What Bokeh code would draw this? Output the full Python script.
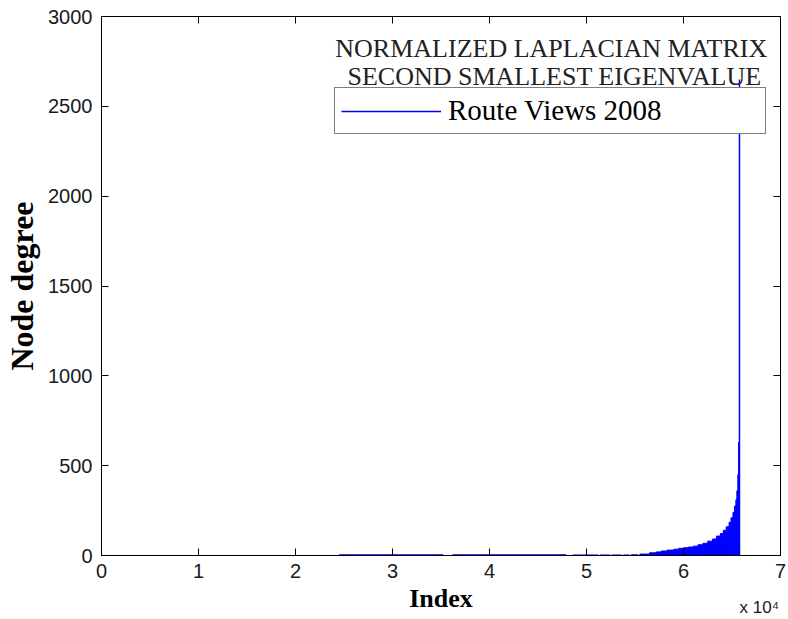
from bokeh.plotting import figure
from bokeh.models import (Range1d, LinearAxis, FixedTicker, Legend, LegendItem, Label)
from bokeh.embed import file_html
from bokeh.resources import INLINE

# ---- data ----
seg_start = [24500, 36200, 48600, 51400, 52600, 53800, 54600, 55500, 56500, 57200,
             57700, 58300, 59000, 59500, 60000, 60500, 61000, 61500, 62000, 62500,
             63000, 63400, 63800, 64100, 64400, 64700, 64900, 65100, 65250, 65400,
             65500, 65600, 65680]
seg_end = [35200, 47900, 51200, 52400, 53600, 54400, 55300, 56500, 57200, 57700,
           58300, 59000, 59500, 60000, 60500, 61000, 61500, 62000, 62500, 63000,
           63400, 63800, 64100, 64400, 64700, 64900, 65100, 65250, 65400, 65500,
           65600, 65680, 65760]
seg_degree = [4, 4, 3, 3, 3, 3, 4, 8, 15, 20,
              25, 30, 35, 40, 43, 47, 52, 60, 68, 80,
              92, 108, 122, 140, 160, 185, 210, 240, 275, 310,
              360, 450, 630]

spike_index = [65770]
spike_degree = [2650]

x_ticks = [0, 10000, 20000, 30000, 40000, 50000, 60000, 70000]
x_tick_labels = ["0", "1", "2", "3", "4", "5", "6", "7"]
y_ticks = [0, 500, 1000, 1500, 2000, 2500, 3000]

title_lines = ["NORMALIZED LAPLACIAN  MATRIX", "SECOND SMALLEST EIGENVALUE"]
legend_label = "Route Views 2008"
x_multiplier = "x 10\u2074"

BLUE = "#0000ff"
TICK_FONT = "Liberation Sans"
SERIF = "Liberation Serif"

p = figure(width=788, height=619, output_backend="svg", toolbar_location=None,
           x_range=Range1d(0, 70000), y_range=Range1d(0, 3000),
           min_border_left=101, min_border_right=8, min_border_top=16, min_border_bottom=64)
p.background_fill_color = "white"
p.border_fill_color = "white"
p.outline_line_color = "black"
p.outline_line_width = 1
p.grid.visible = False

bars = p.quad(left=seg_start, right=seg_end, bottom=0, top=seg_degree,
              fill_color=BLUE, line_color=BLUE, line_width=1)
spike = p.segment(x0=spike_index, y0=[0] * len(spike_index), x1=spike_index, y1=spike_degree,
                  line_color=BLUE, line_width=1.5)

def style_axis(ax, show_labels=True):
    ax.major_tick_in = 7
    ax.major_tick_out = 0
    ax.minor_tick_line_color = None
    ax.major_tick_line_color = "black"
    ax.axis_line_color = "black"
    if show_labels:
        ax.major_label_text_font = TICK_FONT
        ax.major_label_text_font_size = "20px"
        ax.major_label_text_color = "#1a1a1a"
    else:
        ax.major_label_text_font_size = "0px"
        ax.major_label_standoff = 0

xa = p.xaxis[0]
xa.ticker = FixedTicker(ticks=x_ticks)
xa.major_label_overrides = {t: l for t, l in zip(x_ticks, x_tick_labels)}
style_axis(xa)
xa.major_label_standoff = 8
xa.axis_label = "Index"
xa.axis_label_text_font = SERIF
xa.axis_label_text_font_size = "26px"
xa.axis_label_text_font_style = "bold"
xa.axis_label_text_color = "black"
xa.axis_label_standoff = 3

ya = p.yaxis[0]
ya.ticker = FixedTicker(ticks=y_ticks)
style_axis(ya)
ya.major_label_standoff = 9
ya.axis_label = "Node degree"
ya.axis_label_text_font = SERIF
ya.axis_label_text_font_size = "32px"
ya.axis_label_text_font_style = "bold"
ya.axis_label_text_color = "black"
ya.axis_label_standoff = 5

ra = LinearAxis(ticker=FixedTicker(ticks=y_ticks))
style_axis(ra, False)
ra.axis_line_color = None
p.add_layout(ra, "right")
ta = LinearAxis(ticker=FixedTicker(ticks=x_ticks))
style_axis(ta, False)
ta.axis_line_color = None
p.add_layout(ta, "above")

# outer axis only carrying the "x 10^4" multiplier, pulled up beside "Index"
# (label anchored at the right end; trailing no-break spaces shift the visible text left)
ma = LinearAxis(ticker=FixedTicker(ticks=[]))
ma.axis_line_color = None
ma.major_tick_line_color = None
ma.minor_tick_line_color = None
ma.major_tick_in = 0
ma.major_tick_out = 0
ma.major_label_text_font_size = "0px"
ma.major_label_standoff = 0
ma.axis_label = x_multiplier + "\u00a0" * 9
ma.axis_label_text_font = TICK_FONT
ma.axis_label_text_font_size = "17px"
ma.axis_label_text_font_style = "normal"
ma.axis_label_text_color = "#1a1a1a"
ma.axis_label_standoff = -18
try:
    ma.axis_label_align = "end"
except AttributeError:
    pass
p.add_layout(ma, "below")

# title text inside plot
for txt, yv in zip(title_lines, [2820, 2665]):
    p.add_layout(Label(x=46700, y=yv, text=txt, text_align="center", text_baseline="alphabetic",
                       text_font=SERIF, text_font_size="26px", text_color="#222222"))

legend = Legend(items=[LegendItem(label=legend_label, renderers=[spike])],
                location=(233, 421), margin=0, padding=6, spacing=0,
                glyph_width=100, glyph_height=20, label_standoff=7,
                label_width=311, label_height=30,
                label_text_font=SERIF, label_text_font_size="29px", label_text_color="black",
                border_line_color="black", border_line_width=1,
                background_fill_color="white", background_fill_alpha=1.0)
p.add_layout(legend)

open("out.html", "w").write(file_html(p, INLINE))
